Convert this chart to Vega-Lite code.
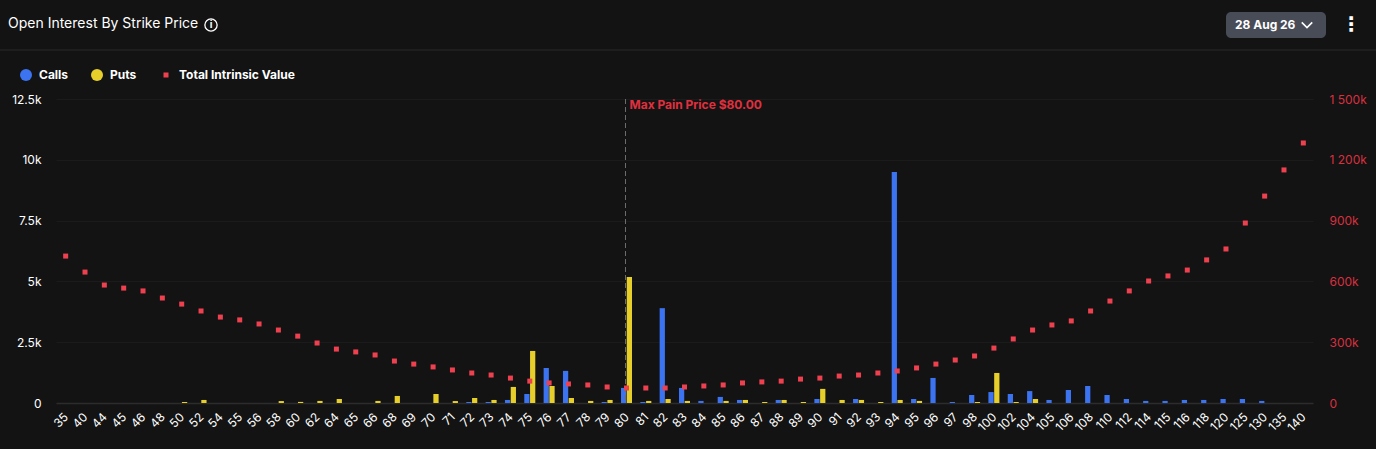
{
  "$schema": "https://vega.github.io/schema/vega-lite/v6.json",
  "width": 1257,
  "height": 304,
  "autosize": "none",
  "padding": {"left": 56, "top": 99, "right": 63, "bottom": 46},
  "background": "#131313",
  "title": {
    "text": "Open Interest By Strike Price",
    "anchor": "start",
    "frame": "group",
    "dx": -48,
    "offset": -19,
    "font": "Inter",
    "fontSize": 14,
    "fontWeight": "normal",
    "color": "#ffffff"
  },
  "config": {
    "font": "Inter",
    "view": {"stroke": null}
  },
  "datasets": {
    "oi": [
      {"strike": "50", "series": "Puts", "value": 40},
      {"strike": "52", "series": "Puts", "value": 125},
      {"strike": "58", "series": "Puts", "value": 80},
      {"strike": "60", "series": "Puts", "value": 45},
      {"strike": "62", "series": "Puts", "value": 85},
      {"strike": "64", "series": "Puts", "value": 165},
      {"strike": "66", "series": "Puts", "value": 85},
      {"strike": "68", "series": "Puts", "value": 290},
      {"strike": "70", "series": "Puts", "value": 370},
      {"strike": "71", "series": "Puts", "value": 80},
      {"strike": "72", "series": "Calls", "value": 40},
      {"strike": "72", "series": "Puts", "value": 205},
      {"strike": "73", "series": "Calls", "value": 40},
      {"strike": "73", "series": "Puts", "value": 125},
      {"strike": "74", "series": "Calls", "value": 125},
      {"strike": "74", "series": "Puts", "value": 660},
      {"strike": "75", "series": "Calls", "value": 370},
      {"strike": "75", "series": "Puts", "value": 2140},
      {"strike": "76", "series": "Calls", "value": 1440},
      {"strike": "76", "series": "Puts", "value": 700},
      {"strike": "77", "series": "Calls", "value": 1320},
      {"strike": "77", "series": "Puts", "value": 205},
      {"strike": "78", "series": "Puts", "value": 85},
      {"strike": "79", "series": "Calls", "value": 40},
      {"strike": "79", "series": "Puts", "value": 125},
      {"strike": "80", "series": "Calls", "value": 620},
      {"strike": "80", "series": "Puts", "value": 5180},
      {"strike": "81", "series": "Calls", "value": 40},
      {"strike": "81", "series": "Puts", "value": 85},
      {"strike": "82", "series": "Calls", "value": 3900},
      {"strike": "82", "series": "Puts", "value": 165},
      {"strike": "83", "series": "Calls", "value": 620},
      {"strike": "83", "series": "Puts", "value": 85},
      {"strike": "84", "series": "Calls", "value": 85},
      {"strike": "85", "series": "Calls", "value": 250},
      {"strike": "85", "series": "Puts", "value": 85},
      {"strike": "86", "series": "Calls", "value": 125},
      {"strike": "86", "series": "Puts", "value": 125},
      {"strike": "87", "series": "Puts", "value": 40},
      {"strike": "88", "series": "Calls", "value": 125},
      {"strike": "88", "series": "Puts", "value": 125},
      {"strike": "89", "series": "Puts", "value": 40},
      {"strike": "90", "series": "Calls", "value": 165},
      {"strike": "90", "series": "Puts", "value": 580},
      {"strike": "91", "series": "Puts", "value": 125},
      {"strike": "92", "series": "Calls", "value": 165},
      {"strike": "92", "series": "Puts", "value": 125},
      {"strike": "93", "series": "Puts", "value": 40},
      {"strike": "94", "series": "Calls", "value": 9500},
      {"strike": "94", "series": "Puts", "value": 125},
      {"strike": "95", "series": "Calls", "value": 165},
      {"strike": "95", "series": "Puts", "value": 85},
      {"strike": "96", "series": "Calls", "value": 1030},
      {"strike": "97", "series": "Calls", "value": 40},
      {"strike": "98", "series": "Calls", "value": 330},
      {"strike": "98", "series": "Puts", "value": 40},
      {"strike": "100", "series": "Calls", "value": 450},
      {"strike": "100", "series": "Puts", "value": 1235},
      {"strike": "102", "series": "Calls", "value": 370},
      {"strike": "102", "series": "Puts", "value": 40},
      {"strike": "104", "series": "Calls", "value": 490},
      {"strike": "104", "series": "Puts", "value": 165},
      {"strike": "105", "series": "Calls", "value": 125},
      {"strike": "106", "series": "Calls", "value": 535},
      {"strike": "108", "series": "Calls", "value": 700},
      {"strike": "110", "series": "Calls", "value": 330},
      {"strike": "112", "series": "Calls", "value": 165},
      {"strike": "114", "series": "Calls", "value": 85},
      {"strike": "115", "series": "Calls", "value": 85},
      {"strike": "116", "series": "Calls", "value": 125},
      {"strike": "118", "series": "Calls", "value": 125},
      {"strike": "120", "series": "Calls", "value": 165},
      {"strike": "125", "series": "Calls", "value": 165},
      {"strike": "130", "series": "Calls", "value": 85}
    ],
    "intrinsic": [
      {"strike": "35", "series": "Total Intrinsic Value", "value": 725000},
      {"strike": "40", "series": "Total Intrinsic Value", "value": 646000},
      {"strike": "44", "series": "Total Intrinsic Value", "value": 582000},
      {"strike": "45", "series": "Total Intrinsic Value", "value": 567000},
      {"strike": "46", "series": "Total Intrinsic Value", "value": 553000},
      {"strike": "48", "series": "Total Intrinsic Value", "value": 518000},
      {"strike": "50", "series": "Total Intrinsic Value", "value": 488000},
      {"strike": "52", "series": "Total Intrinsic Value", "value": 454000},
      {"strike": "54", "series": "Total Intrinsic Value", "value": 424000},
      {"strike": "55", "series": "Total Intrinsic Value", "value": 410000},
      {"strike": "56", "series": "Total Intrinsic Value", "value": 390000},
      {"strike": "58", "series": "Total Intrinsic Value", "value": 360000},
      {"strike": "60", "series": "Total Intrinsic Value", "value": 330000},
      {"strike": "62", "series": "Total Intrinsic Value", "value": 296000},
      {"strike": "64", "series": "Total Intrinsic Value", "value": 266000},
      {"strike": "65", "series": "Total Intrinsic Value", "value": 252000},
      {"strike": "66", "series": "Total Intrinsic Value", "value": 237000},
      {"strike": "68", "series": "Total Intrinsic Value", "value": 207000},
      {"strike": "69", "series": "Total Intrinsic Value", "value": 192000},
      {"strike": "70", "series": "Total Intrinsic Value", "value": 178000},
      {"strike": "71", "series": "Total Intrinsic Value", "value": 163000},
      {"strike": "72", "series": "Total Intrinsic Value", "value": 148000},
      {"strike": "73", "series": "Total Intrinsic Value", "value": 138000},
      {"strike": "74", "series": "Total Intrinsic Value", "value": 123000},
      {"strike": "75", "series": "Total Intrinsic Value", "value": 108000},
      {"strike": "76", "series": "Total Intrinsic Value", "value": 99000},
      {"strike": "77", "series": "Total Intrinsic Value", "value": 94000},
      {"strike": "78", "series": "Total Intrinsic Value", "value": 89000},
      {"strike": "79", "series": "Total Intrinsic Value", "value": 79000},
      {"strike": "80", "series": "Total Intrinsic Value", "value": 74000},
      {"strike": "81", "series": "Total Intrinsic Value", "value": 74000},
      {"strike": "82", "series": "Total Intrinsic Value", "value": 74000},
      {"strike": "83", "series": "Total Intrinsic Value", "value": 79000},
      {"strike": "84", "series": "Total Intrinsic Value", "value": 84000},
      {"strike": "85", "series": "Total Intrinsic Value", "value": 89000},
      {"strike": "86", "series": "Total Intrinsic Value", "value": 99000},
      {"strike": "87", "series": "Total Intrinsic Value", "value": 104000},
      {"strike": "88", "series": "Total Intrinsic Value", "value": 108000},
      {"strike": "89", "series": "Total Intrinsic Value", "value": 118000},
      {"strike": "90", "series": "Total Intrinsic Value", "value": 123000},
      {"strike": "91", "series": "Total Intrinsic Value", "value": 133000},
      {"strike": "92", "series": "Total Intrinsic Value", "value": 138000},
      {"strike": "93", "series": "Total Intrinsic Value", "value": 148000},
      {"strike": "94", "series": "Total Intrinsic Value", "value": 158000},
      {"strike": "95", "series": "Total Intrinsic Value", "value": 173000},
      {"strike": "96", "series": "Total Intrinsic Value", "value": 192000},
      {"strike": "97", "series": "Total Intrinsic Value", "value": 212000},
      {"strike": "98", "series": "Total Intrinsic Value", "value": 232000},
      {"strike": "100", "series": "Total Intrinsic Value", "value": 271000},
      {"strike": "102", "series": "Total Intrinsic Value", "value": 316000},
      {"strike": "104", "series": "Total Intrinsic Value", "value": 360000},
      {"strike": "105", "series": "Total Intrinsic Value", "value": 385000},
      {"strike": "106", "series": "Total Intrinsic Value", "value": 405000},
      {"strike": "108", "series": "Total Intrinsic Value", "value": 454000},
      {"strike": "110", "series": "Total Intrinsic Value", "value": 503000},
      {"strike": "112", "series": "Total Intrinsic Value", "value": 553000},
      {"strike": "114", "series": "Total Intrinsic Value", "value": 602000},
      {"strike": "115", "series": "Total Intrinsic Value", "value": 627000},
      {"strike": "116", "series": "Total Intrinsic Value", "value": 656000},
      {"strike": "118", "series": "Total Intrinsic Value", "value": 706000},
      {"strike": "120", "series": "Total Intrinsic Value", "value": 760000},
      {"strike": "125", "series": "Total Intrinsic Value", "value": 888000},
      {"strike": "130", "series": "Total Intrinsic Value", "value": 1021000},
      {"strike": "135", "series": "Total Intrinsic Value", "value": 1150000},
      {"strike": "140", "series": "Total Intrinsic Value", "value": 1283000}
    ],
    "maxpain": [{"strike": "80", "label": "Max Pain Price $80.00"}],
    "header": [{"date": "28 Aug 26", "info": "i", "menu": "⋮"}]
  },
  "encoding": {
    "x": {
      "field": "strike",
      "type": "nominal",
      "title": null,
      "sort": null,
      "scale": {
        "type": "band",
        "paddingInner": 0.43,
        "paddingOuter": 0.215,
        "domain": ["35","40","44","45","46","48","50","52","54","55","56","58","60","62","64","65","66","68","69","70","71","72","73","74","75","76","77","78","79","80","81","82","83","84","85","86","87","88","89","90","91","92","93","94","95","96","97","98","100","102","104","105","106","108","110","112","114","115","116","118","120","125","130","135","140"]
      },
      "axis": {
        "labelAngle": -45,
        "labelColor": "#ffffff",
        "labelFontSize": 12,
        "labelPadding": 8,
        "labelOffset": -3,
        "labelOverlap": false,
        "ticks": false,
        "domain": true,
        "domainColor": "#2c2c2c",
        "domainWidth": 1.5,
        "grid": false
      }
    }
  },
  "layer": [
    {
      "data": {"name": "oi"},
      "mark": {"type": "bar"},
      "encoding": {
        "xOffset": {
          "field": "series",
          "type": "nominal",
          "sort": null,
          "scale": {"domain": ["Calls", "Puts"], "paddingInner": 0.09}
        },
        "y": {
          "field": "value",
          "type": "quantitative",
          "title": null,
          "scale": {"domain": [0, 12500]},
          "axis": {
            "orient": "left",
            "values": [0, 2500, 5000, 7500, 10000, 12500],
            "labelExpr": "datum.value == 0 ? '0' : format(datum.value / 1000, '.3~f') + 'k'",
            "labelColor": "#ffffff",
            "labelFontSize": 12,
            "labelPadding": 15,
            "ticks": false,
            "domain": false,
            "grid": true,
            "gridColor": "#1b1b1b",
            "gridWidth": 1
          }
        },
        "color": {
          "field": "series",
          "type": "nominal",
          "title": null,
          "scale": {"domain": ["Calls", "Puts"], "range": ["#3b73f1", "#e6cf2b"]},
          "legend": {
            "orient": "none",
            "legendX": -36,
            "legendY": -30,
            "direction": "horizontal",
            "columns": 2,
            "columnPadding": 22,
            "symbolType": "circle",
            "symbolSize": 144,
            "symbolStrokeWidth": 0,
            "labelColor": "#ffffff",
            "labelFontSize": 12,
            "labelFontWeight": "bold",
            "labelOffset": 7
          }
        }
      }
    },
    {
      "data": {"name": "maxpain"},
      "mark": {"type": "rule", "color": "#6e6e6e", "strokeDash": [5, 3], "strokeWidth": 1, "xOffset": -1},
      "encoding": {}
    },
    {
      "data": {"name": "maxpain"},
      "mark": {"type": "text", "align": "left", "dx": 3, "color": "#e0303f", "fontSize": 12, "fontWeight": "bold"},
      "encoding": {
        "y": {"datum": 12250, "type": "quantitative", "scale": {"domain": [0, 12500]}, "axis": null},
        "text": {"field": "label"}
      }
    },
    {
      "data": {"name": "intrinsic"},
      "mark": {"type": "point", "shape": "square", "filled": true, "size": 25, "opacity": 1},
      "encoding": {
        "y": {
          "field": "value",
          "type": "quantitative",
          "title": null,
          "scale": {"domain": [0, 1500000]},
          "axis": {
            "orient": "right",
            "values": [0, 300000, 600000, 900000, 1200000, 1500000],
            "labelExpr": "datum.value == 0 ? '0' : replace(format(datum.value / 1000, ',d'), ',', ' ') + 'k'",
            "labelColor": "#d9303f",
            "labelFontSize": 12,
            "labelPadding": 16,
            "ticks": false,
            "domain": false,
            "grid": false
          }
        },
        "color": {
          "field": "series",
          "type": "nominal",
          "title": null,
          "scale": {"domain": ["Total Intrinsic Value"], "range": ["#ef4050"]},
          "legend": {
            "orient": "none",
            "legendX": 104,
            "legendY": -30,
            "symbolType": "square",
            "symbolSize": 25,
            "symbolStrokeWidth": 0,
            "labelColor": "#ffffff",
            "labelFontSize": 12,
            "labelFontWeight": "bold",
            "labelOffset": 7
          }
        }
      }
    },
    {
      "data": {"name": "header"},
      "mark": {"type": "rule", "color": "#2a2a30", "strokeWidth": 1},
      "encoding": {
        "x": {"value": -56},
        "x2": {"value": 1320},
        "y": {"value": -49}
      }
    },
    {
      "data": {"name": "header"},
      "mark": {"type": "point", "shape": "circle", "filled": false, "stroke": "#ffffff", "strokeWidth": 1.3, "size": 150, "opacity": 1},
      "encoding": {
        "x": {"value": 155},
        "y": {"value": -74}
      }
    },
    {
      "data": {"name": "header"},
      "mark": {"type": "text", "align": "center", "baseline": "middle", "color": "#ffffff", "fontSize": 10, "fontWeight": "bold"},
      "encoding": {
        "x": {"value": 155},
        "y": {"value": -74},
        "text": {"field": "info"}
      }
    },
    {
      "data": {"name": "header"},
      "mark": {"type": "rect", "color": "#484c57", "cornerRadius": 5},
      "encoding": {
        "x": {"value": 1170},
        "x2": {"value": 1270},
        "y": {"value": -87},
        "y2": {"value": -61}
      }
    },
    {
      "data": {"name": "header"},
      "mark": {"type": "text", "align": "left", "baseline": "middle", "color": "#ffffff", "fontSize": 12, "fontWeight": "bold"},
      "encoding": {
        "x": {"value": 1179},
        "y": {"value": -74},
        "text": {"field": "date"}
      }
    },
    {
      "data": {"name": "header"},
      "mark": {"type": "point", "shape": "M-1,-0.5L0,0.5L1,-0.5", "filled": false, "stroke": "#ffffff", "strokeWidth": 1.6, "size": 110, "opacity": 1},
      "encoding": {
        "x": {"value": 1251},
        "y": {"value": -74}
      }
    },
    {
      "data": {"name": "header"},
      "mark": {"type": "text", "align": "center", "baseline": "middle", "color": "#ffffff", "font": "DejaVu Sans", "fontSize": 20, "fontWeight": "bold"},
      "encoding": {
        "x": {"value": 1295},
        "y": {"value": -74},
        "text": {"field": "menu"}
      }
    }
  ],
  "resolve": {
    "scale": {"y": "independent", "color": "independent"},
    "axis": {"y": "independent"}
  }
}
